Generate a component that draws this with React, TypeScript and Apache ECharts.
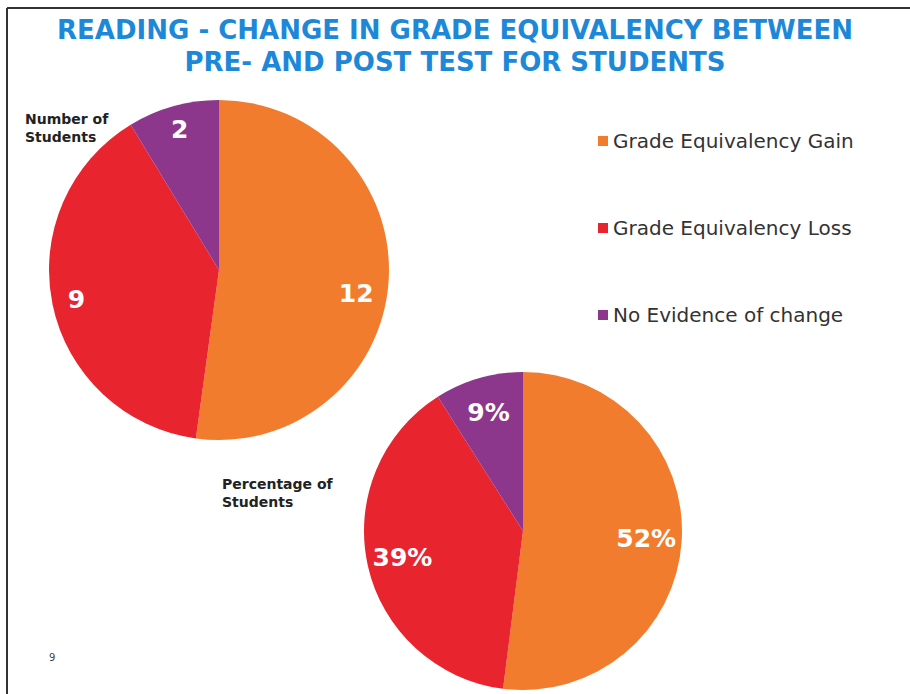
import React, { useEffect, useRef } from "react";
import * as echarts from "echarts";

const categories = ["Grade Equivalency Gain", "Grade Equivalency Loss", "No Evidence of change"];
const studentCounts = [12, 9, 2];
const studentPercents = [52, 39, 9];
const colors = ["#F27C2E", "#E8242F", "#8C378B"];
const titleLines = ["READING - CHANGE IN GRADE EQUIVALENCY BETWEEN", "PRE- AND POST TEST FOR STUDENTS"];

export default function App() {
  const ref = useRef<HTMLDivElement>(null);
  useEffect(() => {
    document.body.style.margin = "0";
    const chart = echarts.init(ref.current!, null, { renderer: "svg" });
    const mk = (vals: number[]) => vals.map((v, i) => ({ name: categories[i], value: v, itemStyle: { color: colors[i] } }));
    const mkT = (vals: number[]) => vals.map((v, i) => ({ name: categories[i], value: v }));
    const labelStyle = {
      show: true,
      position: "inside",
      color: "#ffffff",
      fontFamily: "DejaVu Sans",
      fontWeight: "bold",
      fontSize: 25,
    };
    chart.setOption({
      animation: false,
      backgroundColor: "#ffffff",
      title: [
        {
          text: titleLines.join("\n"),
          left: "center",
          top: 9,
          textStyle: {
            color: "#1E88D8",
            fontFamily: "DejaVu Sans",
            fontWeight: "bold",
            fontSize: 26,
            lineHeight: 32,
          },
        },
      ],
      legend: {
        orient: "vertical",
        left: 593,
        top: 126,
        itemWidth: 10,
        itemHeight: 10,
        itemGap: 67,
        icon: "rect",
        data: categories,
        textStyle: { color: "#333333", fontFamily: "DejaVu Sans", fontSize: 20 },
      },
      graphic: [
        { type: "line", shape: { x1: 7, y1: 8, x2: 910, y2: 8 }, style: { stroke: "#333", lineWidth: 2 } },
        { type: "line", shape: { x1: 7, y1: 8, x2: 7, y2: 694 }, style: { stroke: "#333", lineWidth: 2 } },
        {
          type: "text",
          left: 25,
          top: 110,
          style: { text: "Number of\nStudents", fill: "#222", font: "bold 14px 'DejaVu Sans'", lineHeight: 18 },
        },
        {
          type: "text",
          left: 222,
          top: 475,
          style: { text: "Percentage of\nStudents", fill: "#222", font: "bold 14px 'DejaVu Sans'", lineHeight: 18 },
        },
        {
          type: "text",
          left: 49,
          top: 652,
          style: { text: "9", fill: "#444", font: "10px 'DejaVu Sans'" },
        },
      ],
      series: [
        {
          type: "pie",
          center: [219, 270],
          radius: 170,
          startAngle: 90,
          label: { show: false },
          labelLine: { show: false },
          silent: true,
          data: mk(studentCounts),
        },
        {
          type: "pie",
          center: [523, 531],
          radius: 159,
          startAngle: 90,
          label: { show: false },
          labelLine: { show: false },
          silent: true,
          data: mk(studentPercents),
        },
        {
          type: "pie",
          center: [219, 270],
          radius: [115, 170],
          startAngle: 90,
          silent: true,
          itemStyle: { color: "rgba(0,0,0,0)" },
          label: { ...labelStyle, formatter: "{c}" },
          labelLine: { show: false },
          labelLayout: (p: any) => (p.dataIndex === 0 ? { dy: 14, dx: -8 } : {}),
          data: mkT(studentCounts),
        },
        {
          type: "pie",
          center: [523, 531],
          radius: [82, 159],
          startAngle: 90,
          silent: true,
          itemStyle: { color: "rgba(0,0,0,0)" },
          label: { ...labelStyle, formatter: "{c}%" },
          labelLine: { show: false },
          data: mkT(studentPercents),
        },
      ],
    });
    return () => chart.dispose();
  }, []);
  return <div ref={ref} style={{ position: "absolute", left: 0, top: 0, width: 910, height: 694 }} />;
}
